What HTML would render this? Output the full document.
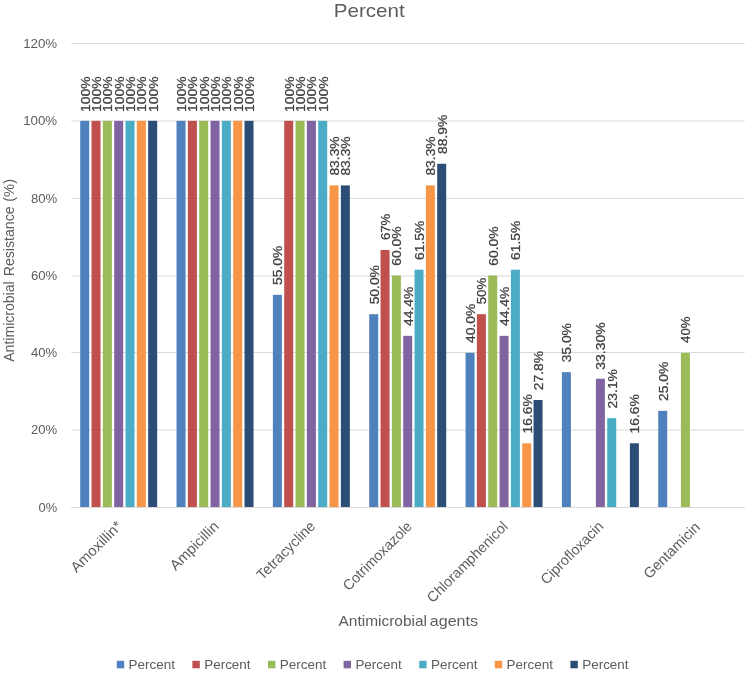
<!DOCTYPE html>
<html><head><meta charset="utf-8"><title>Percent</title>
<style>
html,body{margin:0;padding:0;background:#fff;}
body{width:749px;height:675px;overflow:hidden;}
svg{display:block;will-change:transform;}
text{font-family:"Liberation Sans",sans-serif;}
.t{fill:#5c5c5c;}
.d{fill:#404040;font-size:12px;stroke:#404040;stroke-width:0.25px;}
</style></head><body>
<svg width="749" height="675" viewBox="0 0 749 675">
<rect width="749" height="675" fill="#ffffff"/>
<line x1="71.2" x2="744.8" y1="507.50" y2="507.50" stroke="#D9D9D9" stroke-width="1"/>
<line x1="71.2" x2="744.8" y1="430.00" y2="430.00" stroke="#D9D9D9" stroke-width="1"/>
<line x1="71.2" x2="744.8" y1="352.50" y2="352.50" stroke="#D9D9D9" stroke-width="1"/>
<line x1="71.2" x2="744.8" y1="276.00" y2="276.00" stroke="#D9D9D9" stroke-width="1"/>
<line x1="71.2" x2="744.8" y1="198.50" y2="198.50" stroke="#D9D9D9" stroke-width="1"/>
<line x1="71.2" x2="744.8" y1="121.00" y2="121.00" stroke="#D9D9D9" stroke-width="1"/>
<line x1="71.2" x2="744.8" y1="43.50" y2="43.50" stroke="#D9D9D9" stroke-width="1"/>
<text class="t" x="57.2" y="511.90" font-size="13.2" text-anchor="end" textLength="18.6" lengthAdjust="spacingAndGlyphs">0%</text>
<text class="t" x="57.2" y="434.40" font-size="13.2" text-anchor="end" textLength="26.3" lengthAdjust="spacingAndGlyphs">20%</text>
<text class="t" x="57.2" y="356.90" font-size="13.2" text-anchor="end" textLength="26.3" lengthAdjust="spacingAndGlyphs">40%</text>
<text class="t" x="57.2" y="280.40" font-size="13.2" text-anchor="end" textLength="26.3" lengthAdjust="spacingAndGlyphs">60%</text>
<text class="t" x="57.2" y="202.90" font-size="13.2" text-anchor="end" textLength="26.3" lengthAdjust="spacingAndGlyphs">80%</text>
<text class="t" x="57.2" y="125.40" font-size="13.2" text-anchor="end" textLength="34.0" lengthAdjust="spacingAndGlyphs">100%</text>
<text class="t" x="57.2" y="47.90" font-size="13.2" text-anchor="end" textLength="34.0" lengthAdjust="spacingAndGlyphs">120%</text>
<rect x="80.20" y="120.83" width="9.0" height="386.67" fill="#4F81BD"/>
<rect x="91.53" y="120.83" width="9.0" height="386.67" fill="#C0504D"/>
<rect x="102.86" y="120.83" width="9.0" height="386.67" fill="#9BBB59"/>
<rect x="114.19" y="120.83" width="9.0" height="386.67" fill="#8064A2"/>
<rect x="125.52" y="120.83" width="9.0" height="386.67" fill="#4BACC6"/>
<rect x="136.85" y="120.83" width="9.0" height="386.67" fill="#F79646"/>
<rect x="148.18" y="120.83" width="9.0" height="386.67" fill="#2C4D75"/>
<rect x="176.54" y="120.83" width="9.0" height="386.67" fill="#4F81BD"/>
<rect x="187.87" y="120.83" width="9.0" height="386.67" fill="#C0504D"/>
<rect x="199.20" y="120.83" width="9.0" height="386.67" fill="#9BBB59"/>
<rect x="210.53" y="120.83" width="9.0" height="386.67" fill="#8064A2"/>
<rect x="221.86" y="120.83" width="9.0" height="386.67" fill="#4BACC6"/>
<rect x="233.19" y="120.83" width="9.0" height="386.67" fill="#F79646"/>
<rect x="244.52" y="120.83" width="9.0" height="386.67" fill="#2C4D75"/>
<rect x="272.88" y="294.83" width="9.0" height="212.67" fill="#4F81BD"/>
<rect x="284.21" y="120.83" width="9.0" height="386.67" fill="#C0504D"/>
<rect x="295.54" y="120.83" width="9.0" height="386.67" fill="#9BBB59"/>
<rect x="306.87" y="120.83" width="9.0" height="386.67" fill="#8064A2"/>
<rect x="318.20" y="120.83" width="9.0" height="386.67" fill="#4BACC6"/>
<rect x="329.53" y="185.40" width="9.0" height="322.10" fill="#F79646"/>
<rect x="340.86" y="185.40" width="9.0" height="322.10" fill="#2C4D75"/>
<rect x="369.22" y="314.17" width="9.0" height="193.33" fill="#4F81BD"/>
<rect x="380.55" y="249.98" width="9.0" height="257.52" fill="#C0504D"/>
<rect x="391.88" y="275.50" width="9.0" height="232.00" fill="#9BBB59"/>
<rect x="403.21" y="335.82" width="9.0" height="171.68" fill="#8064A2"/>
<rect x="414.54" y="269.70" width="9.0" height="237.80" fill="#4BACC6"/>
<rect x="425.87" y="185.40" width="9.0" height="322.10" fill="#F79646"/>
<rect x="437.20" y="163.75" width="9.0" height="343.75" fill="#2C4D75"/>
<rect x="465.56" y="352.83" width="9.0" height="154.67" fill="#4F81BD"/>
<rect x="476.89" y="314.17" width="9.0" height="193.33" fill="#C0504D"/>
<rect x="488.22" y="275.50" width="9.0" height="232.00" fill="#9BBB59"/>
<rect x="499.55" y="335.82" width="9.0" height="171.68" fill="#8064A2"/>
<rect x="510.88" y="269.70" width="9.0" height="237.80" fill="#4BACC6"/>
<rect x="522.21" y="443.31" width="9.0" height="64.19" fill="#F79646"/>
<rect x="533.54" y="400.01" width="9.0" height="107.49" fill="#2C4D75"/>
<rect x="561.90" y="372.17" width="9.0" height="135.33" fill="#4F81BD"/>
<rect x="595.89" y="378.74" width="9.0" height="128.76" fill="#8064A2"/>
<rect x="607.22" y="418.18" width="9.0" height="89.32" fill="#4BACC6"/>
<rect x="629.88" y="443.31" width="9.0" height="64.19" fill="#2C4D75"/>
<rect x="658.24" y="410.83" width="9.0" height="96.67" fill="#4F81BD"/>
<rect x="680.90" y="352.83" width="9.0" height="154.67" fill="#9BBB59"/>
<line x1="71.2" x2="744.8" y1="507.50" y2="507.50" stroke="#D9D9D9" stroke-width="1"/>
<text class="d" transform="translate(89.70,111.93) rotate(-90)" textLength="35.4" lengthAdjust="spacingAndGlyphs">100%</text>
<text class="d" transform="translate(101.03,111.93) rotate(-90)" textLength="35.4" lengthAdjust="spacingAndGlyphs">100%</text>
<text class="d" transform="translate(112.36,111.93) rotate(-90)" textLength="35.4" lengthAdjust="spacingAndGlyphs">100%</text>
<text class="d" transform="translate(123.69,111.93) rotate(-90)" textLength="35.4" lengthAdjust="spacingAndGlyphs">100%</text>
<text class="d" transform="translate(135.02,111.93) rotate(-90)" textLength="35.4" lengthAdjust="spacingAndGlyphs">100%</text>
<text class="d" transform="translate(146.35,111.93) rotate(-90)" textLength="35.4" lengthAdjust="spacingAndGlyphs">100%</text>
<text class="d" transform="translate(157.68,111.93) rotate(-90)" textLength="35.4" lengthAdjust="spacingAndGlyphs">100%</text>
<text class="d" transform="translate(186.04,111.93) rotate(-90)" textLength="35.4" lengthAdjust="spacingAndGlyphs">100%</text>
<text class="d" transform="translate(197.37,111.93) rotate(-90)" textLength="35.4" lengthAdjust="spacingAndGlyphs">100%</text>
<text class="d" transform="translate(208.70,111.93) rotate(-90)" textLength="35.4" lengthAdjust="spacingAndGlyphs">100%</text>
<text class="d" transform="translate(220.03,111.93) rotate(-90)" textLength="35.4" lengthAdjust="spacingAndGlyphs">100%</text>
<text class="d" transform="translate(231.36,111.93) rotate(-90)" textLength="35.4" lengthAdjust="spacingAndGlyphs">100%</text>
<text class="d" transform="translate(242.69,111.93) rotate(-90)" textLength="35.4" lengthAdjust="spacingAndGlyphs">100%</text>
<text class="d" transform="translate(254.02,111.93) rotate(-90)" textLength="35.4" lengthAdjust="spacingAndGlyphs">100%</text>
<text class="d" transform="translate(282.38,285.03) rotate(-90)" textLength="39.3" lengthAdjust="spacingAndGlyphs">55.0%</text>
<text class="d" transform="translate(293.71,111.93) rotate(-90)" textLength="35.4" lengthAdjust="spacingAndGlyphs">100%</text>
<text class="d" transform="translate(305.04,111.93) rotate(-90)" textLength="35.4" lengthAdjust="spacingAndGlyphs">100%</text>
<text class="d" transform="translate(316.37,111.93) rotate(-90)" textLength="35.4" lengthAdjust="spacingAndGlyphs">100%</text>
<text class="d" transform="translate(327.70,111.93) rotate(-90)" textLength="35.4" lengthAdjust="spacingAndGlyphs">100%</text>
<text class="d" transform="translate(339.03,175.60) rotate(-90)" textLength="39.3" lengthAdjust="spacingAndGlyphs">83.3%</text>
<text class="d" transform="translate(350.36,175.60) rotate(-90)" textLength="39.3" lengthAdjust="spacingAndGlyphs">83.3%</text>
<text class="d" transform="translate(378.72,304.37) rotate(-90)" textLength="39.3" lengthAdjust="spacingAndGlyphs">50.0%</text>
<text class="d" transform="translate(390.05,240.08) rotate(-90)" textLength="26.4" lengthAdjust="spacingAndGlyphs">67%</text>
<text class="d" transform="translate(401.38,265.70) rotate(-90)" textLength="39.3" lengthAdjust="spacingAndGlyphs">60.0%</text>
<text class="d" transform="translate(412.71,326.02) rotate(-90)" textLength="39.3" lengthAdjust="spacingAndGlyphs">44.4%</text>
<text class="d" transform="translate(424.04,259.90) rotate(-90)" textLength="39.3" lengthAdjust="spacingAndGlyphs">61.5%</text>
<text class="d" transform="translate(435.37,175.60) rotate(-90)" textLength="39.3" lengthAdjust="spacingAndGlyphs">83.3%</text>
<text class="d" transform="translate(446.70,153.95) rotate(-90)" textLength="39.3" lengthAdjust="spacingAndGlyphs">88.9%</text>
<text class="d" transform="translate(475.06,343.03) rotate(-90)" textLength="39.3" lengthAdjust="spacingAndGlyphs">40.0%</text>
<text class="d" transform="translate(486.39,304.27) rotate(-90)" textLength="26.4" lengthAdjust="spacingAndGlyphs">50%</text>
<text class="d" transform="translate(497.72,265.70) rotate(-90)" textLength="39.3" lengthAdjust="spacingAndGlyphs">60.0%</text>
<text class="d" transform="translate(509.05,326.02) rotate(-90)" textLength="39.3" lengthAdjust="spacingAndGlyphs">44.4%</text>
<text class="d" transform="translate(520.38,259.90) rotate(-90)" textLength="39.3" lengthAdjust="spacingAndGlyphs">61.5%</text>
<text class="d" transform="translate(531.71,433.51) rotate(-90)" textLength="39.3" lengthAdjust="spacingAndGlyphs">16.6%</text>
<text class="d" transform="translate(543.04,390.21) rotate(-90)" textLength="39.3" lengthAdjust="spacingAndGlyphs">27.8%</text>
<text class="d" transform="translate(571.40,362.37) rotate(-90)" textLength="39.3" lengthAdjust="spacingAndGlyphs">35.0%</text>
<text class="d" transform="translate(605.39,369.74) rotate(-90)" textLength="47.3" lengthAdjust="spacingAndGlyphs">33.30%</text>
<text class="d" transform="translate(616.72,408.38) rotate(-90)" textLength="39.3" lengthAdjust="spacingAndGlyphs">23.1%</text>
<text class="d" transform="translate(639.38,433.51) rotate(-90)" textLength="39.3" lengthAdjust="spacingAndGlyphs">16.6%</text>
<text class="d" transform="translate(667.74,401.03) rotate(-90)" textLength="39.3" lengthAdjust="spacingAndGlyphs">25.0%</text>
<text class="d" transform="translate(690.40,342.93) rotate(-90)" textLength="26.4" lengthAdjust="spacingAndGlyphs">40%</text>
<text class="t" font-size="14.6" text-anchor="end" transform="translate(122.87,527.00) rotate(-45)" textLength="65.58" lengthAdjust="spacingAndGlyphs">Amoxillin*</text>
<text class="t" font-size="14.6" text-anchor="end" transform="translate(219.71,527.20) rotate(-45)" textLength="62.14" lengthAdjust="spacingAndGlyphs">Ampicillin</text>
<text class="t" font-size="14.6" text-anchor="end" transform="translate(316.15,527.00) rotate(-45)" textLength="76.06" lengthAdjust="spacingAndGlyphs">Tetracycline</text>
<text class="t" font-size="14.6" text-anchor="end" transform="translate(412.89,527.30) rotate(-45)" textLength="90.78" lengthAdjust="spacingAndGlyphs">Cotrimoxazole</text>
<text class="t" font-size="14.6" text-anchor="end" transform="translate(508.73,527.50) rotate(-45)" textLength="107.32" lengthAdjust="spacingAndGlyphs">Chloramphenicol</text>
<text class="t" font-size="14.6" text-anchor="end" transform="translate(604.37,527.30) rotate(-45)" textLength="81.86" lengthAdjust="spacingAndGlyphs">Ciprofloxacin</text>
<text class="t" font-size="14.6" text-anchor="end" transform="translate(700.91,528.00) rotate(-45)" textLength="72.81" lengthAdjust="spacingAndGlyphs">Gentamicin</text>
<text class="t" font-size="19.0" x="369.2" y="16.6" text-anchor="middle" textLength="71" lengthAdjust="spacingAndGlyphs">Percent</text>
<text class="t" font-size="14.6" x="338.5" y="625.5" textLength="88.5" lengthAdjust="spacingAndGlyphs">Antimicrobial</text>
<text class="t" font-size="14.6" x="429.8" y="625.5" textLength="48.2" lengthAdjust="spacingAndGlyphs">agents</text>
<text class="t" font-size="13.8" transform="translate(13.5,361.8) rotate(-90)" textLength="80.5" lengthAdjust="spacingAndGlyphs">Antimicrobial</text>
<text class="t" font-size="13.8" transform="translate(13.5,276.3) rotate(-90)" textLength="70.0" lengthAdjust="spacingAndGlyphs">Resistance</text>
<text class="t" font-size="13.8" transform="translate(13.5,201.8) rotate(-90)" textLength="23.0" lengthAdjust="spacingAndGlyphs">(%)</text>
<rect x="116.80" y="660.8" width="7.4" height="7.5" fill="#4F81BD"/>
<text class="t" font-size="13.7" x="128.60" y="669.3" textLength="46.4" lengthAdjust="spacingAndGlyphs">Percent</text>
<rect x="192.40" y="660.8" width="7.4" height="7.5" fill="#C0504D"/>
<text class="t" font-size="13.7" x="204.20" y="669.3" textLength="46.4" lengthAdjust="spacingAndGlyphs">Percent</text>
<rect x="268.00" y="660.8" width="7.4" height="7.5" fill="#9BBB59"/>
<text class="t" font-size="13.7" x="279.80" y="669.3" textLength="46.4" lengthAdjust="spacingAndGlyphs">Percent</text>
<rect x="343.60" y="660.8" width="7.4" height="7.5" fill="#8064A2"/>
<text class="t" font-size="13.7" x="355.40" y="669.3" textLength="46.4" lengthAdjust="spacingAndGlyphs">Percent</text>
<rect x="419.20" y="660.8" width="7.4" height="7.5" fill="#4BACC6"/>
<text class="t" font-size="13.7" x="431.00" y="669.3" textLength="46.4" lengthAdjust="spacingAndGlyphs">Percent</text>
<rect x="494.80" y="660.8" width="7.4" height="7.5" fill="#F79646"/>
<text class="t" font-size="13.7" x="506.60" y="669.3" textLength="46.4" lengthAdjust="spacingAndGlyphs">Percent</text>
<rect x="570.40" y="660.8" width="7.4" height="7.5" fill="#2C4D75"/>
<text class="t" font-size="13.7" x="582.20" y="669.3" textLength="46.4" lengthAdjust="spacingAndGlyphs">Percent</text>
</svg>
</body></html>
